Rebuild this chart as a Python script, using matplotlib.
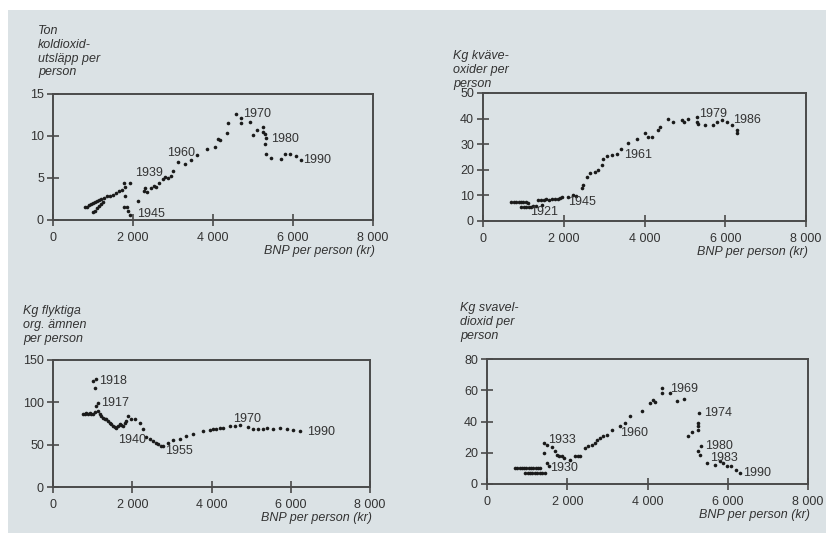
"""
Four scatter panels: emissions per person against BNP per person (kr).
"""

import matplotlib
matplotlib.use('Agg')
import matplotlib.pyplot as plt
from matplotlib.patches import Rectangle


BG_COLOR = '#dbe2e5'
INK = '#1a1a1a'
TEXT_COLOR = '#333333'
FONT = 'Liberation Sans'
FONT_SIZE = 9

# Panel 1: Ton koldioxid per person
CO2_X = [
    800, 850, 900, 950, 1000, 1050, 1100, 1150, 1200, 1270, 1350, 1420,
    1500, 1580, 1650, 1720, 1790, 1000, 1050, 1100, 1150, 1200, 1250,
    1770, 1930, 1810, 1770, 1850, 1875, 1930, 2125, 2265, 2300, 2350,
    2450, 2530, 2580, 2660, 2740, 2790, 2870, 2950, 3000, 3137, 3300,
    3450, 3590, 3840, 4050, 4116, 4175, 4340, 4380, 4565, 4700, 4700,
    4920, 5000, 5110, 5250, 5250, 5300, 5320, 5300, 5320, 5460, 5690,
    5790, 5920, 6080, 6210]
CO2_Y = [
    1.5, 1.6, 1.8, 1.9, 2.0, 2.2, 2.3, 2.4, 2.5, 2.6, 2.8, 2.9,
    3.0, 3.2, 3.4, 3.6, 3.9, 0.9, 1.1, 1.4, 1.7, 1.9, 2.1,
    4.4, 4.4, 2.9, 1.6, 1.6, 1.1, 0.6, 2.3, 3.4, 3.8, 3.3,
    3.8, 4.1, 3.9, 4.4, 4.9, 5.1, 5.0, 5.2, 5.8, 6.9, 6.7,
    7.2, 7.7, 8.5, 8.7, 9.7, 9.5, 10.4, 11.5, 12.6, 12.1, 11.5,
    11.7, 10.1, 10.7, 11.1, 10.5, 10.2, 9.8, 9.0, 7.9, 7.4, 7.3,
    7.8, 7.8, 7.6, 7.2]
CO2_LABELS = ['1939', '1945', '1960', '1970', '1980', '1990']
CO2_LABEL_X = [2060, 2100, 2850, 4760, 5460, 6250]
CO2_LABEL_Y = [5.6, 0.7, 8.0, 12.6, 9.7, 7.1]

# Panel 2: Kg kväveoxider per person
NOX_X = [
    700, 760, 820, 880, 940, 1000, 1060, 1120, 950, 1010, 1070, 1130,
    1190, 1250, 1320, 1450, 1365, 1430, 1500, 1570, 1640, 1710, 1780,
    1850, 1900, 1945, 2110, 2230, 2300, 2440, 2480, 2565, 2650, 2770,
    2850, 2935, 2980, 3060, 3185, 3310, 3430, 3600, 3805, 4010, 4095,
    4175, 4340, 4385, 4590, 4715, 4920, 4985, 5085, 5290, 5290, 5335,
    5500, 5705, 5790, 5915, 6037, 6160, 6285, 6295]
NOX_Y = [
    7.5, 7.4, 7.5, 7.3, 7.4, 7.4, 7.3, 7.2, 5.6, 5.5, 5.6, 5.5,
    5.6, 5.8, 6.0, 6.2, 8.2, 8.3, 8.2, 8.4, 8.3, 8.4, 8.5,
    8.6, 9.0, 9.5, 9.5, 10.1, 9.8, 12.7, 14.0, 17.3, 18.6, 19.2,
    19.9, 21.8, 24.4, 25.3, 25.7, 26.1, 28.3, 30.3, 32.2, 34.2, 32.9,
    32.9, 35.5, 36.8, 40.0, 38.7, 39.4, 38.7, 40.0, 40.7, 38.7, 37.8,
    37.4, 37.4, 38.7, 39.6, 38.7, 37.4, 35.5, 34.4]
NOX_LABELS = ['1921', '1945', '1961', '1979', '1986']
NOX_LABEL_X = [1160, 2110, 3500, 5350, 6200]
NOX_LABEL_Y = [3.4, 7.3, 25.7, 41.7, 39.4]

# Panel 3: Kg flyktiga organiska ämnen per person
VOC_X = [
    760, 800, 842, 890, 926, 970, 1010, 1052, 1095, 1052, 1010, 1095,
    1137, 1137, 1180, 1220, 1263, 1305, 1347, 1390, 1431, 1475, 1516,
    1560, 1600, 1642, 1684, 1726, 1768, 1810, 1852, 1894, 1979, 2063,
    2189, 2274, 2358, 2442, 2526, 2600, 2652, 2720, 2779, 2905, 3031,
    3200, 3368, 3536, 3789, 3957, 4050, 4126, 4210, 4294, 4463, 4589,
    4715, 4926, 5052, 5180, 5305, 5389, 5557, 5726, 5894, 6062, 6231]
VOC_Y = [
    85.9, 86.5, 87.9, 86.0, 87.9, 86.5, 85.9, 88.0, 95.8, 117.5, 125.5,
    127.4, 99.7, 89.8, 85.9, 83.5, 81.9, 80.5, 80.0, 78.0, 76.0, 74.0,
    72.0, 71.0, 70.0, 72.0, 74.0, 73.0, 72.0, 76.0, 78.0, 84.0, 80.0,
    80.7, 76.0, 68.0, 59.4, 56.2, 54.2, 51.5, 50.3, 49.0, 48.3, 52.2,
    55.4, 57.0, 60.2, 62.1, 66.1, 67.3, 68.0, 68.9, 69.5, 70.0, 72.0,
    72.0, 72.8, 70.8, 68.9, 68.5, 68.1, 70.0, 68.1, 69.3, 68.1, 67.3,
    66.1]
VOC_LABELS = ['1918', '1917', '1940', '1955', '1970', '1990']
VOC_LABEL_X = [1150, 1220, 1640, 2820, 4550, 6420]
VOC_LABEL_Y = [125.5, 99.7, 55.4, 42.4, 80.7, 65.3]

# Panel 4: Kg svaveldioxid per person
SO2_X = [
    705, 760, 815, 870, 925, 980, 1035, 1090, 1150, 1210, 1270, 1326,
    953, 1010, 1070, 1130, 1190, 1250, 1310, 1380, 1450, 1410, 1410,
    1492, 1492, 1534, 1617, 1700, 1741, 1782, 1865, 1907, 2072, 2197,
    2280, 2321, 2445, 2528, 2611, 2680, 2736, 2819, 2902, 2985, 3109,
    3316, 3441, 3565, 3855, 4062, 4145, 4186, 4352, 4369, 4560, 4725,
    4916, 4999, 5098, 5264, 5264, 5264, 5281, 5264, 5306, 5331, 5471,
    5679, 5803, 5886, 5969, 6093, 6218, 6300]
SO2_Y = [
    10.2, 10.0, 10.3, 10.1, 10.4, 10.2, 10.3, 10.4, 10.5, 10.3, 10.4,
    10.2, 7.0, 6.8, 7.0, 6.9, 7.1, 7.0, 7.2, 7.0, 7.2, 19.8, 26.2,
    25.2, 13.4, 11.3, 24.0, 21.0, 18.8, 17.7, 17.7, 16.6, 15.6, 18.1,
    17.7, 17.7, 23.0, 24.1, 25.2, 26.5, 28.4, 29.4, 30.9, 31.6, 34.8,
    37.3, 39.0, 43.7, 46.5, 51.8, 54.0, 52.3, 58.2, 61.4, 58.2, 52.9,
    54.4, 30.5, 33.3, 34.8, 36.9, 39.0, 45.4, 20.9, 18.8, 24.1, 13.4,
    11.9, 14.5, 13.4, 11.7, 11.3, 9.2, 7.0]
SO2_LABELS = ['1933', '1930', '1960', '1969', '1974', '1980', '1983', '1990']
SO2_LABEL_X = [1530, 1575, 3316, 4560, 5410, 5430, 5554, 6380]
SO2_LABEL_Y = [28.4, 10.2, 32.6, 60.8, 45.4, 24.1, 16.6, 7.0]

X_TICKS = [0, 2000, 4000, 6000, 8000]
X_TICK_LABELS = ['0', '2 000', '4 000', '6 000', '8 000']


def main():

    fig = plt.figure(figsize=(8.3, 5.33), dpi=100, facecolor='white')
    fig.patches.append(Rectangle(
        (8 / 830, 0), 818 / 830, 1 - 10 / 533, transform=fig.transFigure,
        facecolor=BG_COLOR, edgecolor='none', zorder=-10))

    panels = [
        ([53 / 830, 1 - 220 / 533, 320 / 830, 126 / 533],
         CO2_X, CO2_Y, [0, 5, 10, 15],
         'Ton\nkoldioxid-\nutsläpp per\nperson', (38 / 830, 1 - 25 / 533),
         CO2_LABELS, CO2_LABEL_X, CO2_LABEL_Y),
        ([483 / 830, 1 - 221 / 533, 323 / 830, 128 / 533],
         NOX_X, NOX_Y, [0, 10, 20, 30, 40, 50],
         'Kg kväve-\noxider per\nperson', (453 / 830, 1 - 50 / 533),
         NOX_LABELS, NOX_LABEL_X, NOX_LABEL_Y),
        ([53 / 830, 1 - 487 / 533, 317 / 830, 127 / 533],
         VOC_X, VOC_Y, [0, 50, 100, 150],
         'Kg flyktiga\norg. ämnen\nper person', (23 / 830, 1 - 305 / 533),
         VOC_LABELS, VOC_LABEL_X, VOC_LABEL_Y),
        ([487 / 830, 1 - 484 / 533, 321 / 830, 125 / 533],
         SO2_X, SO2_Y, [0, 20, 40, 60, 80],
         'Kg svavel-\ndioxid per\nperson', (460 / 830, 1 - 302 / 533),
         SO2_LABELS, SO2_LABEL_X, SO2_LABEL_Y),
    ]

    for rect, xs, ys, yticks, ylabel, ylabel_pos, labels, lx, ly in panels:
        plot_panel(fig, rect, xs, ys, yticks, ylabel, ylabel_pos,
                   labels, lx, ly)

    fig.savefig('out.png', dpi=100, facecolor=fig.get_facecolor())


def plot_panel(fig, rect, xs, ys, yticks, ylabel, ylabel_pos,
               labels, label_xs, label_ys):

    axes = fig.add_axes(rect)
    axes.set_facecolor(BG_COLOR)

    axes.plot(xs, ys, linestyle='none', marker='o', markersize=2.6,
              color=INK, markeredgewidth=0)

    axes.set_xlim(0, 8000)
    axes.set_ylim(yticks[0], yticks[-1])
    axes.set_xticks(X_TICKS)
    axes.set_xticklabels(X_TICK_LABELS)
    axes.set_yticks(yticks)

    for spine in axes.spines.values():
        spine.set_color('#4a4a4a')
        spine.set_linewidth(1.4)

    axes.tick_params(direction='inout', length=9, width=1.2,
                     color='#4a4a4a', labelsize=FONT_SIZE,
                     labelcolor=TEXT_COLOR)
    axes.tick_params(axis='x', pad=4)
    axes.tick_params(axis='y', pad=2)
    for tick in axes.get_xticklabels() + axes.get_yticklabels():
        tick.set_fontfamily(FONT)

    for text, x, y in zip(labels, label_xs, label_ys):
        axes.text(x, y, text, fontsize=FONT_SIZE, family=FONT,
                  color=TEXT_COLOR, ha='left', va='center')

    axes.annotate('BNP per person (kr)', xy=(1.0, 0.0),
                  xycoords='axes fraction', xytext=(2, -31),
                  textcoords='offset pixels', fontsize=FONT_SIZE,
                  family=FONT, style='italic', color=TEXT_COLOR,
                  ha='right', va='center')

    fig.text(ylabel_pos[0], ylabel_pos[1], ylabel, fontsize=FONT_SIZE,
             family=FONT, style='italic', color=TEXT_COLOR, ha='left',
             va='top', linespacing=1.2)


if __name__ == '__main__':
    main()
